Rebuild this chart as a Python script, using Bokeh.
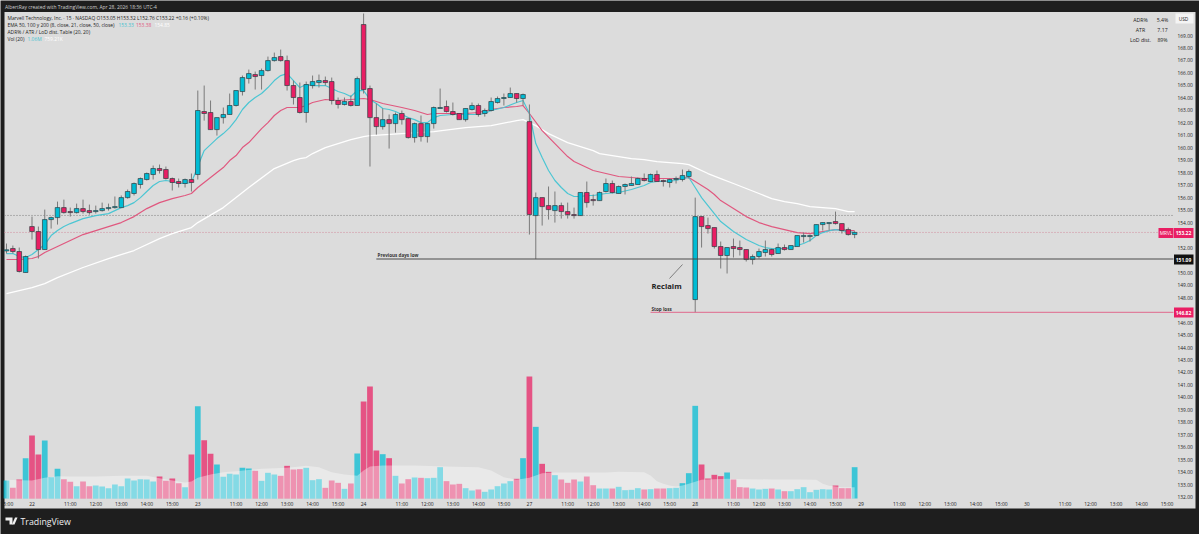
from bokeh.embed import file_html
from bokeh.resources import INLINE
from bokeh.plotting import figure
from bokeh.models import (Range1d, FixedTicker, NumeralTickFormatter, Label,
                          BoxAnnotation, PolyAnnotation)

# ---------- data ----------
first_bar = -4
opens = [151.74,151.93,151.69,150.01,153.69,153.29,151.85,154.25,154.41,155.21,
 154.89,154.81,155.13,154.97,154.89,154.97,155.13,155.21,155.21,156.01,
 156.34,157.06,157.46,157.86,158.34,158.26,157.54,157.30,157.14,157.46,
 157.86,162.91,162.83,161.46,162.42,162.67,163.39,164.51,165.55,165.87,
 165.79,166.19,166.99,167.31,166.99,164.99,164.03,162.83,164.99,165.23,
 165.39,165.31,163.79,163.47,163.71,163.39,169.88,164.75,162.42,161.70,
 162.26,161.94,162.75,162.34,160.82,161.94,160.90,161.94,163.15,163.31,
 162.91,162.75,162.26,163.07,163.39,162.75,162.99,163.63,163.95,164.03,
 164.35,163.95,162.10,154.57,156.01,155.37,154.97,155.37,154.89,154.65,
 154.57,156.42,155.85,155.77,156.50,157.14,156.34,156.90,156.98,157.06,
 157.54,157.30,157.86,157.38,157.22,157.46,157.46,157.70,147.84,154.49,
 153.77,153.61,152.09,151.37,152.09,152.01,151.85,151.05,151.29,151.61,
 151.85,151.53,152.01,151.85,152.09,152.89,152.89,152.97,153.85,153.93,
 154.09,153.93,153.45,153.05]
highs = [152.33,152.17,152.01,151.37,154.49,153.69,155.05,154.49,155.69,155.85,
 155.21,155.53,155.85,155.45,155.37,155.61,155.53,156.10,156.18,156.66,
 157.22,157.62,158.02,158.58,158.66,158.50,157.62,157.54,157.54,157.94,
 164.59,164.99,163.79,162.42,163.23,164.35,164.59,165.79,166.27,166.11,
 166.35,167.31,167.63,167.87,167.39,165.39,165.23,165.31,165.79,165.87,
 165.71,165.63,164.03,164.03,164.19,165.71,170.76,164.99,163.55,163.15,
 162.67,162.83,162.99,162.42,162.02,162.59,161.94,163.31,164.75,163.79,
 163.63,162.75,163.15,163.63,163.55,163.15,164.03,164.11,164.35,164.83,
 164.35,164.35,163.47,156.42,156.01,156.90,156.50,155.61,155.61,155.21,
 156.42,157.30,156.26,156.50,157.54,157.38,156.98,157.14,157.70,157.62,
 157.94,157.94,158.18,157.46,157.54,157.70,158.26,158.26,156.01,154.49,
 154.41,153.61,152.49,152.01,152.73,152.57,151.85,151.45,151.93,152.57,
 151.93,152.33,152.25,152.17,152.97,153.21,153.05,153.85,154.01,154.01,
 154.89,153.93,153.61,153.32]
lows = [151.53,151.53,150.01,150.01,152.65,151.13,151.85,153.53,153.85,154.73,
 154.49,154.73,154.73,154.65,154.73,154.89,154.97,155.13,155.21,155.93,
 156.18,156.74,157.38,157.46,157.94,157.46,156.58,156.82,156.82,156.50,
 157.46,162.18,161.46,160.98,161.94,162.67,163.31,164.19,165.15,164.67,
 164.67,166.11,166.91,166.91,164.59,163.47,162.75,162.02,164.75,164.83,
 164.99,163.47,163.15,163.39,163.31,163.39,164.35,158.50,161.06,161.46,
 159.94,161.22,161.86,160.74,160.42,160.50,160.42,161.54,163.15,162.83,
 162.59,162.26,162.10,162.99,162.50,162.50,162.91,163.55,163.39,164.03,
 163.63,163.39,153.05,151.09,153.77,154.25,154.01,154.33,154.33,154.33,
 154.57,155.21,155.37,155.77,156.42,156.34,156.34,156.26,156.98,157.06,
 157.30,157.30,157.30,156.90,156.82,157.14,157.30,157.54,146.82,152.01,
 153.13,151.93,150.33,149.93,151.21,151.37,150.89,150.65,151.13,151.29,
 151.29,151.53,151.77,151.85,152.09,152.41,152.49,152.97,153.37,153.37,
 153.85,153.13,152.97,152.76]
closes = [151.83,151.69,150.09,151.29,153.29,151.85,154.25,154.41,155.21,154.81,
 154.81,155.13,154.89,154.81,154.97,155.13,155.21,155.29,156.01,156.50,
 157.14,157.54,157.94,158.34,158.18,157.54,157.22,157.14,157.46,157.22,
 162.99,162.75,161.46,162.42,162.67,163.39,164.59,165.63,165.95,165.71,
 166.19,166.99,167.23,166.99,164.99,164.03,162.83,165.07,165.31,165.39,
 165.23,163.79,163.47,163.71,163.39,165.55,164.67,162.42,161.70,162.26,
 161.94,162.67,162.26,160.82,161.94,160.90,161.94,163.23,163.23,162.91,
 162.67,162.26,163.15,163.39,162.67,162.99,163.71,163.95,164.03,164.35,
 163.95,164.27,154.65,156.01,155.29,155.05,155.37,154.89,154.65,154.57,
 156.42,155.61,155.77,156.42,157.14,156.42,156.90,157.06,157.14,157.54,
 157.38,157.86,157.30,157.30,157.46,157.54,157.78,158.10,154.49,153.69,
 153.53,152.09,151.37,152.01,151.93,151.85,151.05,151.29,151.69,151.85,
 151.45,152.01,151.85,152.17,152.97,152.97,152.97,153.85,154.01,154.01,
 153.93,153.37,153.05,153.22]
volumes_k = [609,361,643,1365,2132,1489,1963,722,1004,654,
 564,417,575,417,440,406,350,474,417,677,
 609,654,643,575,744,598,677,519,384,1489,
 3125,1974,1512,1151,733,835,812,1038,1015,936,
 598,869,812,767,1105,981,993,1038,620,654,
 361,609,530,327,508,1523,3282,3790,1624,1500,
 1365,767,508,654,711,699,688,699,1060,587,
 474,496,350,271,305,226,305,417,508,587,
 666,1365,4128,2425,1173,902,790,643,530,643,
 575,744,451,338,338,338,395,282,293,350,
 305,316,338,338,350,361,519,857,3136,1151,
 677,801,756,880,643,384,372,338,305,327,
 338,305,248,248,316,384,214,293,316,305,
 440,350,350,1060]

vol_ma_bars = [-4,-2,0,2,4,6,10,14,18,20,22,24,25,26,28,30,32,36,40,42,43,45,47,49,51,52,53,55,60,65,
 70,72,74,76,78,80,82,85,90,92,96,97,98,99,100,101,102,103,104,105,107,109,112,116,120,123,124,125,126,127,129]
vol_ma_k = [632,620,609,699,756,744,744,767,767,688,609,541,575,699,812,891,925,1004,1038,1083,1105,1060,891,812,767,948,1083,1117,1117,1083,
 1060,948,722,632,699,857,880,880,880,902,891,778,587,496,440,406,440,496,564,632,654,666,654,643,643,632,496,429,406,384,384]

ema8_bars = [-4,-3,-2,-1,0,1,2,3,4,5,6,8,10,12,14,15,16,17,18,19,20,21,22,23,24,25,26,27,28,29,30,31,32,33,34,35,36,37,38,39,40,41,42,43,44,46,47,48,49,50,51,52,53,54,55,56,57,58,59,60,61,62,63,64,66,68,70,71,72,74,76,77,78,79,80,81,82,83,84,85,86,87,88,89,90,92,94,96,97,98,99,101,102,103,104,105,106,107,108,109,110,111,112,113,114,115,116,117,118,119,120,121,122,123,124,125,126,127,128,129]
ema8 = [151.53,151.53,151.29,151.21,151.45,151.85,152.25,152.97,153.37,153.69,153.93,154.33,154.57,154.73,155.21,155.37,155.61,156.01,156.50,156.98,157.30,157.38,157.30,157.14,157.14,157.22,158.50,159.78,160.26,160.74,161.14,161.62,162.26,163.07,163.63,164.03,164.35,164.83,165.39,165.79,165.95,165.39,164.83,165.07,164.99,164.99,164.75,164.51,164.35,164.11,164.59,164.59,163.87,163.55,163.15,163.07,162.91,162.67,162.42,162.26,162.02,162.02,162.42,162.59,162.67,162.67,162.67,162.75,162.99,163.23,163.63,163.79,162.75,160.34,159.22,158.18,157.38,156.82,156.34,156.10,156.10,156.18,156.18,156.26,156.34,156.42,156.66,156.98,157.22,157.30,157.30,157.38,157.54,157.62,156.82,156.01,155.37,154.73,154.09,153.69,153.29,152.97,152.65,152.41,152.17,152.01,151.93,151.93,151.93,152.01,152.17,152.33,152.57,152.97,153.21,153.37,153.45,153.37,153.29,153.21]
ema21_bars = [-4,-2,0,1,2,4,6,8,10,12,14,16,18,20,22,24,25,26,28,30,31,32,33,34,35,36,37,38,39,40,41,42,43,44,46,48,50,52,53,55,58,60,62,63,66,68,70,72,74,76,77,78,80,82,84,85,87,88,90,92,94,96,98,99,101,103,104,105,106,107,108,110,112,114,116,118,120,122,123,124,126,127,128,129]
ema21 = [151.05,151.05,151.13,151.29,151.61,152.09,152.57,153.05,153.37,153.69,154.01,154.49,155.13,155.61,155.93,156.18,156.34,156.82,157.62,158.42,158.98,159.38,160.02,160.42,160.98,161.54,162.02,162.59,162.99,163.23,163.23,163.23,163.39,163.63,163.87,163.79,163.87,163.95,163.87,163.55,163.23,162.99,162.67,162.75,162.75,162.75,162.83,163.07,163.23,163.31,163.39,162.75,161.38,160.34,159.30,158.90,158.42,158.18,157.94,157.70,157.62,157.54,157.54,157.54,157.54,157.62,157.30,156.98,156.66,156.26,155.77,155.13,154.49,154.01,153.69,153.45,153.21,153.13,153.21,153.29,153.45,153.45,153.37,153.37]
ema50_bars = [-4,0,2,4,8,12,16,20,22,25,26,30,34,38,41,42,43,44,46,48,50,52,53,58,63,68,72,76,77,78,79,81,84,86,88,89,90,92,94,96,98,100,102,103,104,106,108,110,112,114,116,118,120,122,124,126,128,129]
ema50 = [148.32,148.80,149.12,149.60,150.41,151.13,151.77,152.73,153.13,153.61,154.01,155.21,156.82,158.34,158.98,159.14,159.22,159.54,160.02,160.34,160.66,160.90,160.98,161.14,161.30,161.62,161.78,162.18,162.26,162.02,161.78,161.14,160.42,160.10,159.78,159.54,159.46,159.30,159.14,159.06,158.90,158.82,158.74,158.66,158.42,157.94,157.54,157.14,156.74,156.34,155.93,155.69,155.53,155.29,155.21,155.13,154.89,154.89]

prev_low = 151.09
stop_loss = 146.82
last_close = 153.22
day_high_line = 154.58

price_ticks = list(range(132, 170))
day_labels = ["22", "23", "24", "27", "28", "29", "30"]
hour_labels = ["11:00", "12:00", "13:00", "14:00", "15:00"]

header_lines = ["Marvell Technology, Inc. · 15 · NASDAQ  O153.05  H153.32  L152.76  C153.22  +0.16 (+0.10%)",
                "EMA 50, 100 y 200 (8, close, 21, close, 50, close)",
                "ADR% / ATR / LoD dist. Table (20, 20)",
                "Vol (20)"]
table_rows = [("ADR%", "5.4%"), ("ATR", "7.17"), ("LoD dist.", "89%")]

# ---------- styles ----------
DARK = "#1e1e1e"; PANE = "#dcdcdc"; UP = "#00bcd4"; DOWN = "#e91e63"
FONT = "Open Sans"
W, H = 1199, 534
PANE_L, PANE_R, PANE_T, PANE_B = 4, 1195, 11.5, 508

# pixel <-> data helpers used only to place annotations and set the view
BAR_PX = 6.377; X0_PX = 31.5; PRICE_PX = 12.48; Y169_PX = 35.0; KPX = 33.84; VOL0_PX = 498
def X(px): return (px - X0_PX) / BAR_PX
def Y(py): return 169 - (py - Y169_PX) / PRICE_PX

p = figure(width=W, height=H, output_backend="svg", toolbar_location=None,
           x_range=Range1d(X(0), X(W)), y_range=Range1d(Y(H), Y(0)), min_border=0,
           border_fill_color=DARK, background_fill_color=DARK, y_axis_location="right", x_axis_location="below")
p.outline_line_color = None
p.grid.visible = False
p.extra_y_ranges = {"vol": Range1d(-(H - VOL0_PX) * KPX, VOL0_PX * KPX)}

p.add_layout(BoxAnnotation(left=X(PANE_L), right=X(PANE_R), bottom=Y(PANE_B), top=Y(PANE_T),
                           fill_color=PANE, fill_alpha=1, line_color=None, level="underlay"))

bars = list(range(first_bar, first_bar + len(opens)))
up = [c >= o for o, c in zip(opens, closes)]
colors = [UP if u else DOWN for u in up]

# volume
p.vbar(x=bars, top=volumes_k, bottom=0, width=0.9, fill_color=colors, fill_alpha=0.72, line_color=None, y_range_name="vol")
p.varea(x=vol_ma_bars, y1=[0] * len(vol_ma_k), y2=vol_ma_k, fill_color="white", fill_alpha=0.37, y_range_name="vol")

# price lines
p.line([X(PANE_L), X(1173)], [day_high_line] * 2, line_color="#7d7d7d", line_width=1, line_dash=[1, 2])
p.line([X(PANE_L), X(1158)], [last_close] * 2, line_color="#d28a9c", line_width=1, line_dash=[1, 2])

# EMAs
p.line(ema50_bars, ema50, line_color="#ffffff", line_width=1.3)
p.line(ema21_bars, ema21, line_color="#e0587f", line_width=1.2)
p.line(ema8_bars, ema8, line_color="#4cc6d3", line_width=1.2)

# candles
p.segment(x0=bars, x1=bars, y0=lows, y1=highs, line_color="#7a7a7a", line_width=1)
p.vbar(x=bars, top=[max(o, c) for o, c in zip(opens, closes)], bottom=[min(o, c) for o, c in zip(opens, closes)],
       width=0.72, fill_color=colors, line_color="#2f3f44", line_width=0.7)

# drawings
p.line([54, X(1173)], [prev_low] * 2, line_color="#4a4a4a", line_width=1.1)
p.line([97, X(1173)], [stop_loss] * 2, line_color="#e0688c", line_width=1)
p.line([X(669), X(682)], [Y(278), Y(264)], line_color="#666666", line_width=0.8)

# axes overlaid in the pane
for ax in (p.yaxis, p.xaxis):
    ax.axis_line_color = None
    ax.major_tick_line_color = None
    ax.minor_tick_line_color = None
    ax.major_tick_out = 0
    ax.major_tick_in = 0
    ax.minor_tick_out = 0
    ax.minor_tick_in = 0
    ax.major_label_text_font = FONT
    ax.major_label_text_color = "#222222"
    ax.level = "overlay"

p.yaxis.fixed_location = X(1176)
p.yaxis.ticker = FixedTicker(ticks=price_ticks)
p.yaxis.formatter = NumeralTickFormatter(format="0.00")
p.yaxis.major_label_standoff = 1
p.yaxis.major_label_text_font_size = "4.9px"

ticks = [first_bar]
overrides = {first_bar: hour_labels[-1]}
for d, lab in enumerate(day_labels):
    start = d * 26
    ticks.append(start); overrides[start] = lab
    for h, hl in enumerate(hour_labels):
        t = start + 6 + 4 * h
        ticks.append(t); overrides[t] = hl
p.xaxis.fixed_location = Y(498.5)
p.xaxis.ticker = FixedTicker(ticks=ticks)
p.xaxis.major_label_overrides = overrides
p.xaxis.major_label_standoff = 2
p.xaxis.major_label_text_font_size = "5px"

def text(px, py, s, size=4.9, color="#222222", align="left", style="normal"):
    p.add_layout(Label(x=X(px), y=Y(py), text=s, text_font=FONT, text_font_size=f"{size}px", text_color=color,
                       text_align=align, text_baseline="middle", text_font_style=style, level="overlay"))

text(4.5, 6, "AlbertRay created with TradingView.com, Apr 28, 2026 18:36 UTC-4", color="#d0d0d0")
for row, line in zip([17, 24, 31, 38], header_lines):
    text(7, row, line)
text(118, 24, "153.33", color="#3fc1d0")
text(135.5, 24, "153.38", color="#e0587f")
text(154, 24, "154.85", color="#ffffff")
text(27, 38, "1.06M", color="#3fc1d0")
text(44, 38, "759.21K", color="#ffffff")
for row, (a, b) in zip([19, 29, 39], table_rows):
    text(1140, row, a, align="center", size=5.2)
    text(1162, row, b, align="center", size=5.2)

# price scale badges
def badge(x0, x1, py, h, fill):
    p.add_layout(BoxAnnotation(left=X(x0), right=X(x1), top=Y(py - h / 2), bottom=Y(py + h / 2),
                               fill_color=fill, fill_alpha=1, line_color=None, level="overlay"))
badge(1175, 1193, 18, 10, "#f4f4f4")
text(1183, 18, "USD", size=4.8, align="center")
badge(1158, 1173, 232.5, 10, DOWN)
badge(1173.5, 1193, 232.5, 10, DOWN)
text(1165.5, 232.5, "MRVL", color="white", align="center", size=4.8)
text(1183, 232.5, f"{last_close:.2f}", color="white", align="center", style="bold")
badge(1173.5, 1193, 259, 10, "#111111")
text(1183, 259, f"{prev_low:.2f}", color="white", align="center", style="bold")
badge(1173.5, 1193, 312, 10, DOWN)
text(1183, 312, f"{stop_loss:.2f}", color="white", align="center", style="bold")

# chart notes
text(377, 254.5, "Previous days low", size=4.6, style="bold", color="#333333")
text(651, 285, "Reclaim", size=7.6, style="bold", color="#222222")
text(651, 308.5, "Stop loss", size=4.6, style="bold", color="#333333")

# footer
text(20, 521, "TradingView", size=8.8, color="#f0f0f0")
for xs, ys in [([5, 12, 12, 9, 9, 5], [517, 517, 524, 524, 520, 520]),
               ([14.5, 17, 14, 11.5], [517, 517, 524, 524])]:
    p.add_layout(PolyAnnotation(xs=[X(v) for v in xs], ys=[Y(v) for v in ys], fill_color="#f0f0f0", fill_alpha=1,
                                line_color=None, level="overlay"))

open("out.html", "w").write(file_html(p, INLINE))
